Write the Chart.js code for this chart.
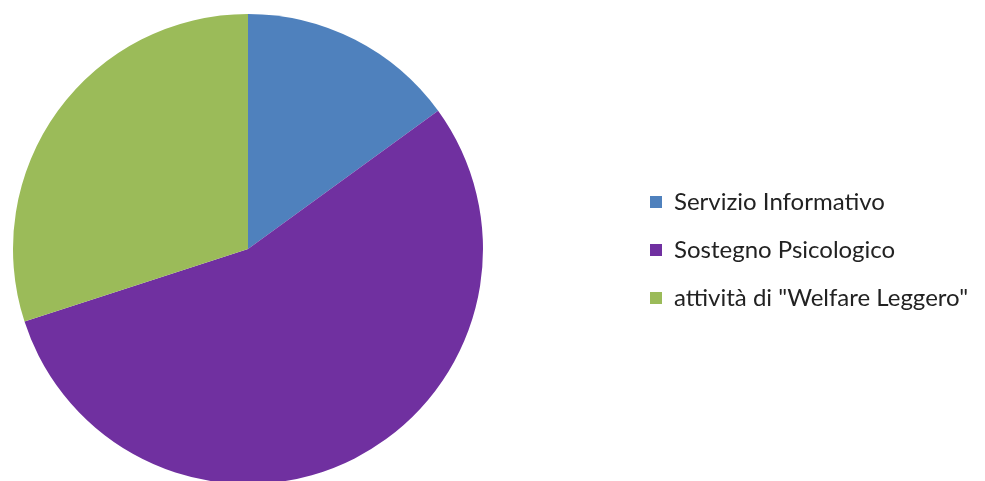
<!DOCTYPE html>
<html>
<head>
<meta charset="utf-8">
<script src="https://cdn.jsdelivr.net/npm/chart.js@4.4.0/dist/chart.umd.min.js"></script>
<style>
  html, body { margin: 0; padding: 0; background: #fff; overflow: hidden; }
  #wrap { position: relative; width: 985px; height: 481px; }
</style>
</head>
<body>
<div id="wrap"><canvas id="pie"></canvas></div>
<script>
// data (percent of the circle)
const categories = ['Servizio Informativo', 'Sostegno Psicologico', 'attività di "Welfare Leggero"'];
const values = [15, 55, 30];
const colors = ['#4F81BD', '#7030A0', '#9BBB59'];

// place the pie on the left and the legend on the right, like the original
const placePlot = {
    id: 'placePlot',
    afterLayout(chart) {
        const a = chart.chartArea;
        a.left = 13; a.top = 14; a.right = 483; a.bottom = 484;
        a.width = a.right - a.left; a.height = a.bottom - a.top;
        const lg = chart.legend;
        const w = lg.width;
        lg.left = 650 - lg.options.labels.padding; lg.right = lg.left + w;
        lg.top = 16; lg.bottom = 484; lg.height = lg.bottom - lg.top;
    }
};

const pieChart = new Chart(document.getElementById('pie'), {
    type: 'pie',
    data: {
        labels: categories,
        datasets: [{
            data: values,
            backgroundColor: colors,
            borderWidth: 0
        }]
    },
    options: {
        responsive: true,
        maintainAspectRatio: false,
        animation: false,
        plugins: {
            legend: {
                position: 'right',
                labels: {
                    boxWidth: 12,
                    boxHeight: 12,
                    padding: 24,
                    color: '#222',
                    font: { family: 'Lato', size: 24 }
                }
            },
            tooltip: { enabled: false }
        }
    },
    plugins: [placePlot]
});
</script>
</body>
</html>
